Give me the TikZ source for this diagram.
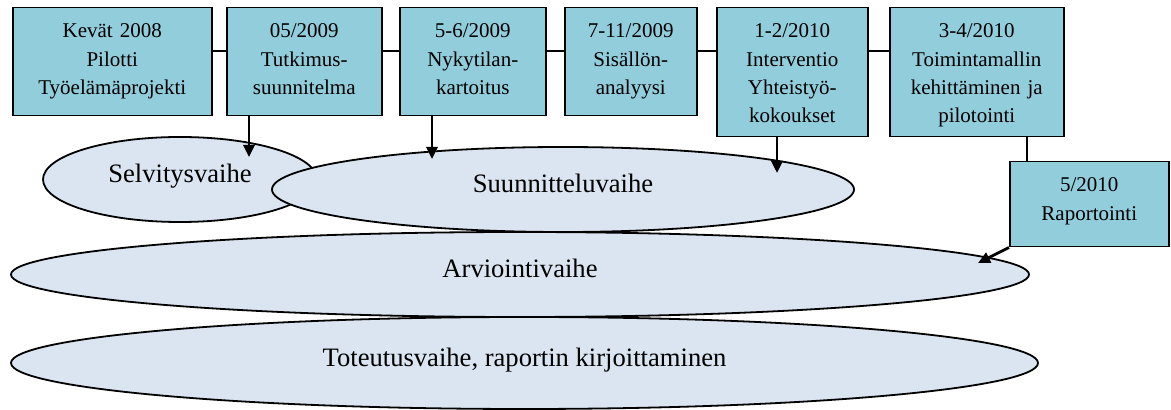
\documentclass[tikz,border=0pt]{standalone}
\usepackage{fontspec}
\setmainfont{Liberation Serif}
\usepackage{tikz}
\usetikzlibrary{shapes.geometric}
\usetikzlibrary{positioning}
\usetikzlibrary{arrows.meta}

\begin{document}
\begin{tikzpicture}[>={Triangle[length=6pt,width=5.5pt]},x=0.5pt,y=-0.5pt,
	date node/.style={rectangle,draw,line width=0.75pt,fill=datefill,anchor=north west,
		inner sep=0pt,align=center,font=\fontsize{10.5}{14.2}\selectfont,
		text height=15pt,text depth=39pt},
	phase node/.style={ellipse,draw,line width=0.9pt,fill=phasefill,inner sep=0pt,
		font=\fontsize{13.3}{16}\selectfont,text height=9pt,text depth=5.5pt}]
	
	\definecolor{datefill}{RGB}{146,205,220}
	\definecolor{phasefill}{RGB}{219,229,241}
	
	\useasboundingbox (0,0) rectangle (1171,410);
	
	% vaiheet
	\node[phase node, minimum width=137pt, minimum height=42.5pt] (sel) at (180,179.5) {Selvitysvaihe};
	\node[phase node, minimum width=291pt, minimum height=42.5pt] (suu) at (563,189.5) {Suunnitteluvaihe};
	\node[phase node, minimum width=509pt, minimum height=42.5pt] (arv) at (520,274.5) {Arviointivaihe};
	\node[phase node, minimum width=513.5pt, minimum height=46pt] (tot) at (524.5,363) {Toteutusvaihe, raportin kirjoittaminen};
	
	% aikajana
	\node[date node, text width=99.5pt] (kev) at (12,7) {Kevät 2008\\Pilotti\\Työelämäprojekti};
	\node[date node, text width=77.5pt] (tut) at (226,7) {05/2009\\Tutkimus-\\suunnitelma};
	\node[date node, text width=73pt] (nyk) at (399,7) {5-6/2009\\Nykytilan-\\kartoitus};
	\node[date node, text width=66pt] (sis) at (564,7) {7-11/2009\\Sisällön-\\analyysi};
	\node[date node, text width=75.5pt, text depth=49.5pt] (int) at (716,7) {1-2/2010\\Interventio\\Yhteistyö-\\kokoukset};
	\node[date node, text width=87pt, text depth=49.5pt] (toi) at (889,7) {3-4/2010\\Toimintamallin\\kehittäminen ja\\pilotointi};
	\node[date node, text width=79.5pt, text depth=27.5pt] (rap) at (1009,161) {5/2010\\Raportointi};
	
	\coordinate (rail) at (0,51);
	\coordinate (drop) at (1027,0);
	\coordinate (p1) at (249,157);
	\coordinate (p2) at (432,159);
	\coordinate (p3) at (777,173);
	\coordinate (p4) at (978,263);
	
	\path[line width=0.6pt]
	(kev.east |- rail) edge (tut.west |- rail)
	(tut.east |- rail) edge (nyk.west |- rail)
	(nyk.east |- rail) edge (sis.west |- rail)
	(sis.east |- rail) edge (int.west |- rail)
	(int.east |- rail) edge (toi.west |- rail)
	(toi.south -| drop) edge (rap.north -| drop);
	
	\path[->,line width=1.35pt]
	(tut.south -| p1) edge (p1)
	(nyk.south -| p2) edge (p2)
	(int.south -| p3) edge (p3)
	(rap.south west) edge (p4);
\end{tikzpicture}
\end{document}
